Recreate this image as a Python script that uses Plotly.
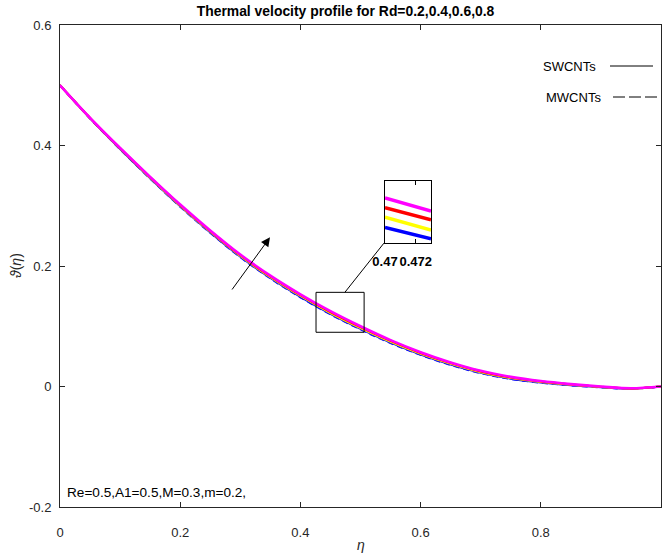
import plotly.graph_objects as go

# ---------------- data ----------------
eta = [0.00, 0.05, 0.10, 0.15, 0.20, 0.25, 0.30, 0.35, 0.40, 0.45, 0.50,
       0.55, 0.60, 0.65, 0.70, 0.75, 0.80, 0.85, 0.90, 0.95, 1.00]

rd_labels = ["Rd=0.2", "Rd=0.4", "Rd=0.6", "Rd=0.8"]
rd_colors = ["#0000FF", "#FFFF00", "#FF0000", "#FF00FF"]

sw_rd02 = [0.5000, 0.4451, 0.3942, 0.3456, 0.2990, 0.2557, 0.2154, 0.1801, 0.1488, 0.1205, 0.0955,
           0.0728, 0.0531, 0.0364, 0.0227, 0.0130, 0.0066, 0.0022, -0.0012, -0.0036, 0.0000]
sw_rd04 = [0.5000, 0.4454, 0.3948, 0.3464, 0.3000, 0.2568, 0.2166, 0.1814, 0.1502, 0.1220, 0.0970,
           0.0742, 0.0544, 0.0376, 0.0238, 0.0140, 0.0074, 0.0028, -0.0008, -0.0034, 0.0000]
sw_rd06 = [0.5000, 0.4457, 0.3954, 0.3472, 0.3010, 0.2579, 0.2178, 0.1827, 0.1516, 0.1235, 0.0985,
           0.0756, 0.0557, 0.0388, 0.0249, 0.0150, 0.0082, 0.0034, -0.0004, -0.0032, 0.0000]
sw_rd08 = [0.5000, 0.4460, 0.3960, 0.3480, 0.3020, 0.2590, 0.2190, 0.1840, 0.1530, 0.1250, 0.1000,
           0.0770, 0.0570, 0.0400, 0.0260, 0.0160, 0.0090, 0.0040, 0.0000, -0.0030, 0.0000]

mw_rd02 = [0.5000, 0.4449, 0.3939, 0.3452, 0.2985, 0.2551, 0.2148, 0.1794, 0.1481, 0.1198, 0.0948,
           0.0721, 0.0525, 0.0358, 0.0222, 0.0125, 0.0062, 0.0019, -0.0014, -0.0037, 0.0000]
mw_rd04 = [0.5000, 0.4452, 0.3945, 0.3460, 0.2995, 0.2562, 0.2160, 0.1807, 0.1495, 0.1213, 0.0963,
           0.0735, 0.0538, 0.0370, 0.0233, 0.0135, 0.0070, 0.0025, -0.0010, -0.0035, 0.0000]
mw_rd06 = [0.5000, 0.4455, 0.3951, 0.3468, 0.3005, 0.2573, 0.2172, 0.1820, 0.1509, 0.1228, 0.0978,
           0.0749, 0.0551, 0.0382, 0.0244, 0.0145, 0.0078, 0.0031, -0.0006, -0.0033, 0.0000]
mw_rd08 = [0.5000, 0.4458, 0.3957, 0.3476, 0.3015, 0.2584, 0.2184, 0.1833, 0.1523, 0.1243, 0.0993,
           0.0763, 0.0564, 0.0394, 0.0255, 0.0155, 0.0086, 0.0037, -0.0002, -0.0031, 0.0000]

# zoomed inset data
inset_eta = [0.470, 0.473]
inset_rd02 = [0.1123, 0.1106]
inset_rd04 = [0.1138, 0.1119]
inset_rd06 = [0.1152, 0.1134]
inset_rd08 = [0.1166, 0.1147]

x_ticks = [0, 0.2, 0.4, 0.6, 0.8, 1]
x_ticktext = ["0", "0.2", "0.4", "0.6", "0.8", "1"]
y_ticks = [-0.2, 0, 0.2, 0.4, 0.6]
y_ticktext = ["-0.2", "0", "0.2", "0.4", "0.6"]
inset_ticks = [0.47, 0.472]
inset_ticktext = ["<b>0.47</b>", "<b>0.472</b>"]

title_text = "<b>Thermal velocity profile for Rd=0.2,0.4,0.6,0.8</b>"
param_text = "Re=0.5,A1=0.5,M=0.3,m=0.2,"

# ---------------- figure ----------------
FONT = "Liberation Sans, Arial, sans-serif"
AX = "#262626"

fig = go.Figure()

sw_series = [sw_rd02, sw_rd04, sw_rd06, sw_rd08]
mw_series = [mw_rd02, mw_rd04, mw_rd06, mw_rd08]
sw_widths = [2, 2, 2, 2.6]

for vals, c, lab in zip(mw_series, rd_colors, rd_labels):
    fig.add_trace(go.Scatter(x=eta, y=vals, mode="lines", name="MWCNTs " + lab,
                             line=dict(color=c, width=2, dash="6px,4px", shape="spline"),
                             xaxis="x", yaxis="y"))
for vals, c, lab, w in zip(sw_series, rd_colors, rd_labels, sw_widths):
    fig.add_trace(go.Scatter(x=eta, y=vals, mode="lines", name="SWCNTs " + lab,
                             line=dict(color=c, width=w, shape="spline"),
                             xaxis="x", yaxis="y"))

for vals, c, lab in zip([inset_rd02, inset_rd04, inset_rd06, inset_rd08], rd_colors, rd_labels):
    fig.add_trace(go.Scatter(x=inset_eta, y=vals, mode="lines", name="inset " + lab,
                             line=dict(color=c, width=3.5),
                             xaxis="x2", yaxis="y2"))

W, H = 662, 560
L, R, T, B = 60, 1, 25, 53
pw = W - L - R
ph = H - T - B


def px(xp):
    return (xp - L) / pw


def py(yp):
    return (H - B - yp) / ph


fig.update_layout(
    width=W, height=H,
    margin=dict(l=L, r=R, t=T, b=B, pad=0),
    paper_bgcolor="white", plot_bgcolor="white",
    showlegend=False,
    font=dict(family=FONT, size=13, color=AX),
    title=dict(text=title_text, x=345.5 / W, xanchor="center",
               y=1 - 11 / H, yanchor="middle",
               font=dict(family=FONT, size=13.9, color="black")),
    xaxis=dict(range=[0, 1], tickvals=x_ticks, ticktext=x_ticktext,
               showline=True, linecolor=AX, linewidth=1, mirror="ticks",
               ticks="inside", ticklen=5, tickcolor=AX, showgrid=False, zeroline=False,
               tickfont=dict(size=13, color=AX), ticklabelstandoff=13,
               domain=[0, 1], anchor="y"),
    yaxis=dict(range=[-0.2, 0.6], tickvals=y_ticks, ticktext=y_ticktext,
               showline=True, linecolor=AX, linewidth=1, mirror="ticks",
               ticks="inside", ticklen=5, tickcolor=AX, showgrid=False, zeroline=False,
               tickfont=dict(size=13, color=AX), ticklabelstandoff=5,
               domain=[0, 1], anchor="x"),
    xaxis2=dict(range=[0.47, 0.473], tickvals=inset_ticks, ticktext=inset_ticktext,
                showline=True, linecolor="black", linewidth=1, mirror="ticks",
                ticks="inside", ticklen=4, tickcolor="black", showgrid=False, zeroline=False,
                tickangle=0, tickfont=dict(size=13, color="black"), ticklabelstandoff=6,
                domain=[px(385), px(431)], anchor="y2"),
    yaxis2=dict(range=[0.1100, 0.1191], showticklabels=False, ticks="",
                showline=True, linecolor="black", linewidth=1, mirror=True,
                showgrid=False, zeroline=False,
                domain=[py(243), py(181)], anchor="x2"),
)

# axis titles
fig.add_annotation(text="<i>η</i>", xref="paper", yref="paper", x=0.5, y=py(545),
                   showarrow=False, font=dict(size=14, color=AX), xanchor="center", yanchor="middle")
fig.add_annotation(text="<i>ϑ</i>(<i>η</i>)", xref="paper", yref="paper", x=px(16), y=py(266),
                   showarrow=False, textangle=-90, font=dict(size=14, color=AX),
                   xanchor="center", yanchor="middle")

# parameter text
fig.add_annotation(text=param_text, xref="paper", yref="paper", x=px(65), y=py(492),
                   showarrow=False, xanchor="left", yanchor="middle",
                   font=dict(size=13.6, color="black"))

# legend (text then line sample)
fig.add_annotation(text="SWCNTs", xref="paper", yref="paper", x=px(598), y=py(66),
                   showarrow=False, xanchor="right", yanchor="middle",
                   font=dict(size=13, color="black"))
fig.add_annotation(text="MWCNTs", xref="paper", yref="paper", x=px(603), y=py(97),
                   showarrow=False, xanchor="right", yanchor="middle",
                   font=dict(size=13, color="black"))
fig.add_shape(type="line", xref="paper", yref="paper", x0=px(610), x1=px(653), y0=py(66), y1=py(66),
              line=dict(color="black", width=1))
fig.add_shape(type="line", xref="paper", yref="paper", x0=px(613), x1=px(657), y0=py(97), y1=py(97),
              line=dict(color="black", width=1, dash="12px,4px"))

# zoom rectangle and connector
fig.add_shape(type="rect", xref="x", yref="y", x0=0.426, x1=0.506, y0=0.090, y1=0.1563,
              line=dict(color="black", width=1))
fig.add_shape(type="line", xref="x", yref="y", x0=0.474, y0=0.1563, x1=0.539, y1=0.238,
              line=dict(color="black", width=1))

# arrow showing increasing Rd
fig.add_annotation(x=0.3494, y=0.2476, ax=0.2845, ay=0.1585, xref="x", yref="y",
                   axref="x", ayref="y", showarrow=True, arrowhead=2, arrowsize=1.8,
                   arrowwidth=1, arrowcolor="black", text="")

fig.write_html("out.html")
